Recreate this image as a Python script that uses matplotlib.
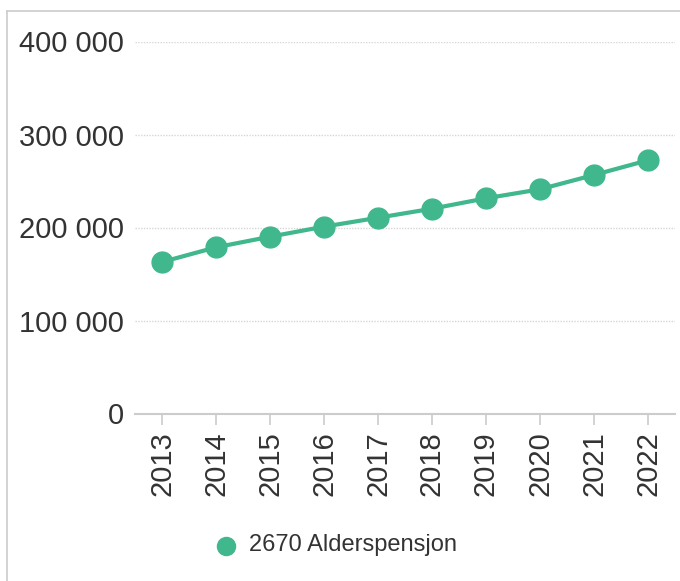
import matplotlib
matplotlib.use("Agg")
import matplotlib.pyplot as plt
from matplotlib.lines import Line2D
from matplotlib.ticker import FuncFormatter

years = ["2013", "2014", "2015", "2016", "2017", "2018", "2019", "2020", "2021", "2022"]
values = [162900, 178700, 190100, 200900, 210500, 220200, 231400, 241100, 256500, 272300]
series_name = "2670 Alderspensjon"
y_ticks = [0, 100000, 200000, 300000, 400000]

plt.rcParams['font.family'] = ['Liberation Sans', 'DejaVu Sans']

W, H = 680, 581
fig = plt.figure(figsize=(W / 100, H / 100), dpi=100)
color = "#40b78c"
text_color = "#333333"

ax = fig.add_axes([135 / W, (H - 413.5) / H, 540 / W, (413.5 - 41.5) / H])
x = list(range(len(years)))
ax.plot(x, values, color=color, lw=3, marker='o', markersize=15, zorder=3,
        solid_capstyle='round', label=series_name)
ax.set_xlim(-0.5, len(years) - 0.5)
ax.set_ylim(0, 400000)
ax.set_yticks(y_ticks)
ax.yaxis.set_major_formatter(FuncFormatter(lambda v, p: f"{int(v):,}".replace(",", " ")))
ax.set_xticks(x)
ax.set_xticklabels(years, rotation=90)

for s in ['top', 'right', 'left']:
    ax.spines[s].set_visible(False)
ax.spines['bottom'].set_color('#cccccc')
ax.spines['bottom'].set_linewidth(1.5)

ax.tick_params(axis='y', length=0, pad=8, labelsize=21, labelcolor=text_color)
ax.tick_params(axis='x', length=8, width=1.2, color='#cccccc', pad=5,
               labelsize=21, labelcolor=text_color)
ax.grid(axis='y', color='#d6d6d6', linestyle=(0, (1, 1)), linewidth=1)
ax.set_axisbelow(True)
for gl in ax.get_ygridlines()[:1]:
    gl.set_visible(False)

# legend
fig.add_artist(Line2D([226 / W], [1 - 545.5 / H], marker='o', markersize=13, color=color,
                      linestyle='none', transform=fig.transFigure))
fig.text(249 / W, 1 - 545 / H, series_name, color=text_color, fontsize=17, ha='left', va='center')

# frame lines
fig.add_artist(Line2D([7 / W, 1], [1 - 11 / H, 1 - 11 / H], color='#cccccc', lw=1.2,
                      transform=fig.transFigure))
fig.add_artist(Line2D([7 / W, 7 / W], [0, 1 - 11 / H], color='#cccccc', lw=1.2,
                      transform=fig.transFigure))

fig.savefig("out.png", dpi=100)
